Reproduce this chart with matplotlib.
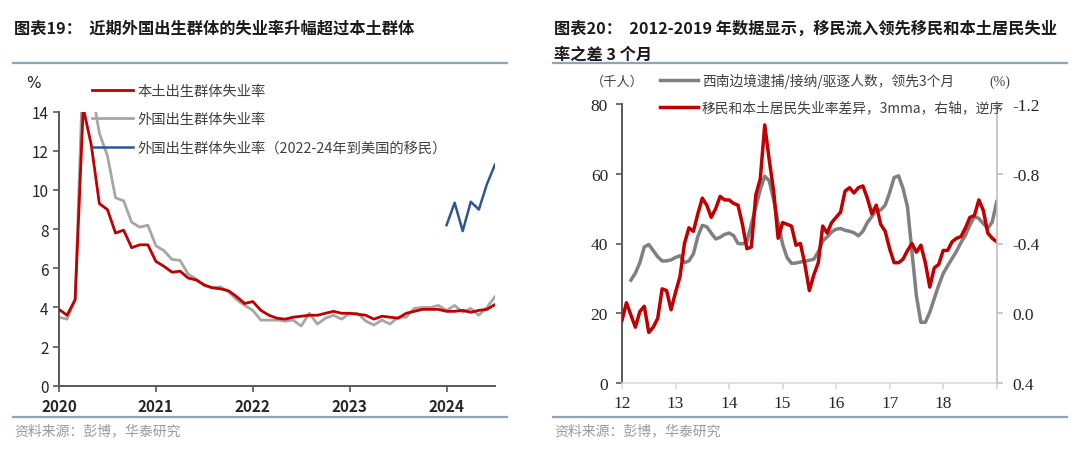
import numpy as np
import matplotlib
matplotlib.use("Agg")
import matplotlib.pyplot as plt
from matplotlib.lines import Line2D

plt.rcParams['font.family'] = ['Noto Sans CJK SC', 'DejaVu Sans']
plt.rcParams['axes.unicode_minus'] = False

# ---------- 图表19 数据：2020年1月 - 2024年7月，月度 ----------
native_rate = [3.9, 3.6, 4.4, 14.2, 12.3, 9.3, 9.0, 7.8, 7.95, 7.05, 7.2, 7.2,
               6.35, 6.1, 5.8, 5.85, 5.5, 5.4, 5.15, 5.0, 4.95, 4.85, 4.55, 4.2,
               4.3, 3.85, 3.6, 3.45, 3.4, 3.5, 3.55, 3.6, 3.6, 3.7, 3.8, 3.7,
               3.7, 3.65, 3.6, 3.4, 3.55, 3.5, 3.45, 3.7, 3.8, 3.9, 3.9, 3.9,
               3.8, 3.8, 3.85, 3.75, 3.85, 3.9, 4.15]
foreign_rate = [3.5, 3.4, 4.4, 16.5, 15.3, 12.9, 11.75, 9.6, 9.45, 8.35, 8.1, 8.2,
                7.15, 6.9, 6.45, 6.4, 5.7, 5.45, 5.1, 5.0, 5.05, 4.8, 4.4, 4.1,
                3.85, 3.35, 3.35, 3.35, 3.3, 3.35, 3.05, 3.7, 3.15, 3.45, 3.6, 3.4,
                3.7, 3.7, 3.3, 3.1, 3.35, 3.15, 3.5, 3.5, 3.95, 4.0, 4.0, 4.1,
                3.85, 4.1, 3.75, 3.95, 3.6, 4.0, 4.55]
recent_imm_rate = [8.2, 9.35, 7.9, 9.4, 9.0, 10.3, 11.3]   # 2024年1-7月
years_left = [2020, 2021, 2022, 2023, 2024]

# ---------- 图表20 数据：2012年1月起，月度 ----------
border_k = [np.nan, np.nan, 29.5, 31.5, 34.5, 39.0, 39.7, 38.0, 36.2, 35.0, 35.0, 35.3,
            36.0, 36.5, 34.5, 35.0, 37.0, 42.0, 45.2, 44.8, 43.0, 41.3, 41.8, 42.6,
            43.0, 42.3, 40.0, 39.9, 40.5, 45.5, 50.5, 55.5, 59.3, 58.0, 52.5, 46.0,
            39.8, 36.0, 34.3, 34.4, 34.7, 34.9, 35.2, 35.5, 37.6, 40.7, 41.9, 43.3,
            44.1, 44.3, 43.8, 43.5, 43.1, 42.2, 43.5, 46.0, 47.7, 49.6, 49.6, 51.0,
            54.6, 58.9, 59.4, 55.8, 50.5, 37.6, 25.0, 17.4, 17.4, 20.3, 24.2, 28.0,
            31.4, 33.6, 35.7, 37.8, 40.3, 42.4, 45.3, 47.7, 47.2, 45.7, 44.3, 46.2,
            52.0]
gap_3mma = [0.04, -0.06, 0.01, 0.08, -0.01, -0.04, 0.11, 0.08, 0.03, -0.14, -0.13, -0.02,
            -0.12, -0.21, -0.40, -0.49, -0.47, -0.57, -0.66, -0.62, -0.55, -0.60, -0.67, -0.65,
            -0.65, -0.63, -0.62, -0.51, -0.37, -0.38, -0.68, -0.77, -1.08, -0.88, -0.70, -0.43,
            -0.52, -0.51, -0.50, -0.39, -0.40, -0.28, -0.13, -0.22, -0.29, -0.50, -0.46, -0.52,
            -0.55, -0.58, -0.70, -0.72, -0.69, -0.72, -0.73, -0.66, -0.57, -0.62, -0.51, -0.47,
            -0.37, -0.29, -0.29, -0.31, -0.36, -0.40, -0.35, -0.39, -0.29, -0.15, -0.26, -0.28,
            -0.36, -0.36, -0.41, -0.43, -0.44, -0.49, -0.55, -0.56, -0.65, -0.59, -0.46, -0.43,
            -0.41]
years_right = [2012, 2013, 2014, 2015, 2016, 2017, 2018]
year_labels_right = ['12', '13', '14', '15', '16', '17', '18']

W, H = 1080, 452
fig = plt.figure(figsize=(W / 100, H / 100), dpi=100)

def fx(px):
    return px / W

def fy(py):
    return 1 - py / H

rule_c = '#8FA3BA'
txt_c = '#262626'
RED = '#C00000'
SERIF = ['Liberation Serif', 'DejaVu Serif']

# 标题和分隔线
fig.text(fx(14), fy(29), '图表19：  近期外国出生群体的失业率升幅超过本土群体',
         fontsize=11.7, fontweight='bold', va='center', color='#1a1a1a')
fig.text(fx(554), fy(29), '图表20：  2012-2019 年数据显示，移民流入领先移民和本土居民失业',
         fontsize=11.7, fontweight='bold', va='center', color='#1a1a1a')
fig.text(fx(554), fy(55), '率之差 3 个月',
         fontsize=11.7, fontweight='bold', va='center', color='#1a1a1a')
for x0, x1 in [(13, 507), (553, 1067)]:
    for yy in (64, 418):
        fig.add_artist(Line2D([fx(x0), fx(x1)], [fy(yy), fy(yy)], color=rule_c, lw=1.6))
fig.text(fx(14), fy(431), '资料来源：彭博，华泰研究', fontsize=10, color='#9a9a9a', va='center')
fig.text(fx(554), fy(431), '资料来源：彭博，华泰研究', fontsize=10, color='#9a9a9a', va='center')

# ---------- 左图 ----------
ax1 = fig.add_axes([fx(59), fy(386.7), fx(495 - 59), (386.7 - 112.7) / H])
t1 = 2020 + np.arange(len(native_rate)) / 12
t1b = 2024 + np.arange(len(recent_imm_rate)) / 12
ax1.plot(t1, native_rate, color=RED, lw=2, label='本土出生群体失业率', zorder=3)
ax1.plot(t1, foreign_rate, color='#A6A6A6', lw=2, label='外国出生群体失业率', zorder=2)
ax1.plot(t1b, recent_imm_rate, color='#2F5597', lw=1.8,
         label='外国出生群体失业率（2022-24年到美国的移民）', zorder=3)
ax1.set_xlim(2020, t1[-1])
ax1.set_ylim(0, 14)
ax1.set_yticks(range(0, 15, 2))
ax1.set_xticks(years_left)
ax1.set_xticklabels([str(y) for y in years_left], fontweight='bold')
for s in ['top', 'right']:
    ax1.spines[s].set_visible(False)
for s in ['left', 'bottom']:
    ax1.spines[s].set_color('#595959')
    ax1.spines[s].set_linewidth(1.4)
ax1.tick_params(axis='both', colors='#595959', labelcolor=txt_c, labelsize=11,
                length=4, width=1.2, direction='out')
ax1.tick_params(axis='x', pad=5)
fig.text(fx(33), fy(84), '%', fontsize=11, color=txt_c, va='center', ha='center',
         family='DejaVu Sans')
ax1.legend(loc='upper left', bbox_to_anchor=(fx(92), fy(85)), bbox_transform=fig.transFigure,
           frameon=False, fontsize=10.3, handlelength=2.85, handletextpad=0.35,
           labelspacing=1.0, borderpad=0, borderaxespad=0, labelcolor='#404040')

# ---------- 右图 ----------
ax2 = fig.add_axes([fx(622), fy(384), fx(996.7 - 622), (384 - 105) / H])
t2 = 2012 + np.arange(len(border_k)) / 12
t3 = 2012 + np.arange(len(gap_3mma)) / 12
l_gray, = ax2.plot(t2, border_k, color='#808080', lw=2.5,
                   label='西南边境逮捕/接纳/驱逐人数，领先3个月')
ax2.set_xlim(2012, 2019)
ax2.set_ylim(0, 80)
ax2.set_yticks(range(0, 81, 20))
ax2.set_xticks(years_right + [2019])
ax2.set_xticklabels(year_labels_right + [''])
ax3 = ax2.twinx()
l_red, = ax3.plot(t3, gap_3mma, color=RED, lw=2.5,
                  label='移民和本土居民失业率差异，3mma，右轴，逆序')
ax3.set_ylim(0.4, -1.2)
ax3.set_yticks([-1.2, -0.8, -0.4, 0.0, 0.4])
ax3.set_yticklabels(['%.1f' % v for v in [-1.2, -0.8, -0.4, 0.0, 0.4]])
for a in (ax2, ax3):
    a.spines['top'].set_visible(False)
ax2.spines['right'].set_visible(False)
ax3.spines['left'].set_visible(False)
ax3.spines['bottom'].set_visible(False)
ax2.spines['left'].set_color('#595959')
ax2.spines['left'].set_linewidth(1.4)
ax2.spines['bottom'].set_color('#D9D9D9')
ax2.spines['bottom'].set_linewidth(1.2)
ax3.spines['right'].set_color('#BFBFBF')
ax3.spines['right'].set_linewidth(1.2)
for a in (ax2, ax3):
    for lab in a.get_xticklabels() + a.get_yticklabels():
        lab.set_family(SERIF)
ax2.tick_params(axis='y', colors='#595959', labelcolor=txt_c, labelsize=12.5, length=4, width=1.2, pad=6)
ax2.tick_params(axis='x', colors='#D9D9D9', labelcolor=txt_c, labelsize=12.5, length=4, width=1.2, pad=5)
ax3.tick_params(axis='y', colors='#BFBFBF', labelcolor=txt_c, labelsize=12.5, length=4, width=1.2, pad=7)
fig.text(fx(617), fy(82), '（千人）', fontsize=9.5, color='#404040', va='center', ha='center')
fig.text(fx(1000), fy(82), '(%)', fontsize=10, color='#404040', va='center', ha='center',
         family=SERIF)
ax3.legend([l_gray, l_red], [l_gray.get_label(), l_red.get_label()],
           loc='upper left', bbox_to_anchor=(fx(660), fy(74)), bbox_transform=fig.transFigure,
           frameon=False, fontsize=9.9, handlelength=2.75, handletextpad=0.3,
           labelspacing=0.9, borderpad=0, borderaxespad=0, labelcolor='#404040')

fig.savefig('out.png', dpi=100)
